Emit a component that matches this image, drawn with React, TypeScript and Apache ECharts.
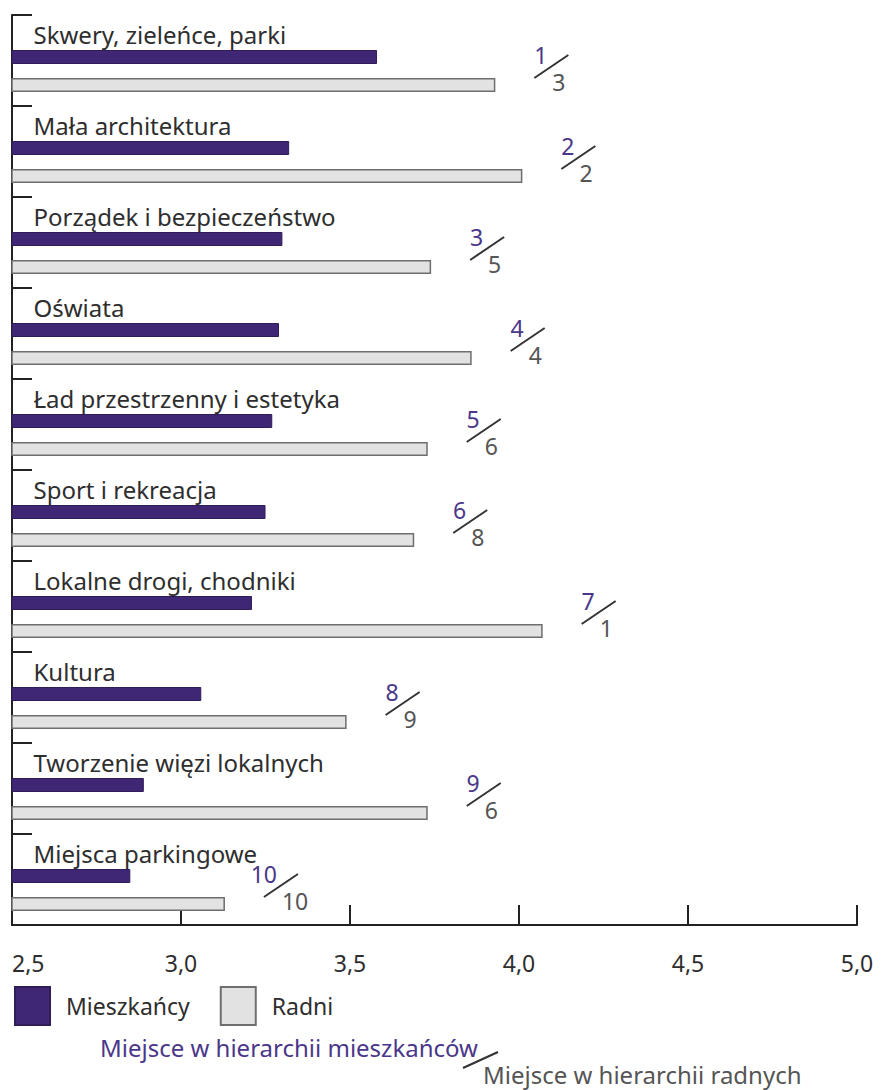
import React, { useEffect, useRef } from "react";
import * as echarts from "echarts";

const categories = [
  "Skwery, zieleńce, parki",
  "Mała architektura",
  "Porządek i bezpieczeństwo",
  "Oświata",
  "Ład przestrzenny i estetyka",
  "Sport i rekreacja",
  "Lokalne drogi, chodniki",
  "Kultura",
  "Tworzenie więzi lokalnych",
  "Miejsca parkingowe",
];
const mieszkancy = [3.58, 3.32, 3.3, 3.29, 3.27, 3.25, 3.21, 3.06, 2.89, 2.85];
const radni = [3.93, 4.01, 3.74, 3.86, 3.73, 3.69, 4.07, 3.49, 3.73, 3.13];
const rankMieszkancy = [1, 2, 3, 4, 5, 6, 7, 8, 9, 10];
const rankRadni = [3, 2, 5, 4, 6, 8, 1, 9, 6, 10];
const xTicks = { min: 2.5, max: 5.0, interval: 0.5 };

const PURPLE = "#3f2775";
const PURPLE_TEXT = "#4b3789";
const GRAY_FILL = "#e2e2e2";
const GRAY_BORDER = "#6e6e6e";
const TEXT = "#2e2e2e";
const AXIS = "#222222";
const FONT = "'Noto Sans', sans-serif";

export default function App() {
  const ref = useRef<HTMLDivElement>(null);
  useEffect(() => {
    if (!ref.current) return;
    const chart = echarts.init(ref.current, null, { renderer: "svg" });
    const rankData = categories.map((_, i) => [radni[i], i, rankMieszkancy[i], rankRadni[i]]);
    chart.setOption({
      animation: false,
      backgroundColor: "#ffffff",
      textStyle: { fontFamily: FONT },
      grid: { left: 12, right: 36, top: 15, bottom: 165, containLabel: false },
      xAxis: {
        type: "value",
        min: xTicks.min,
        max: xTicks.max,
        interval: xTicks.interval,
        axisLine: { show: true, lineStyle: { color: AXIS, width: 2 } },
        axisTick: { show: true, inside: true, length: 20, lineStyle: { color: AXIS, width: 2 } },
        splitLine: { show: false },
        axisLabel: {
          fontFamily: FONT,
          fontSize: 23,
          color: TEXT,
          margin: 26,
          alignMinLabel: "left",
          formatter: (v: number) => v.toFixed(1).replace(".", ","),
        },
      },
      yAxis: {
        type: "category",
        inverse: true,
        data: categories,
        axisLine: { show: true, lineStyle: { color: AXIS, width: 2 } },
        axisTick: { show: true, inside: true, length: 20, alignWithLabel: false, lineStyle: { color: AXIS, width: 2 } },
        axisLabel: { show: false },
        splitLine: { show: false },
      },
      legend: {
        data: ["Mieszkańcy", "Radni"],
        left: 9,
        top: 981,
        icon: "rect",
        itemWidth: 35,
        itemHeight: 38,
        itemGap: 30,
        textStyle: { fontFamily: FONT, fontSize: 23, color: TEXT, padding: [0, 0, 0, 11] },
      },
      series: [
        {
          name: "spacer",
          type: "bar",
          barWidth: 10.5,
          barGap: "100%",
          data: [],
          silent: true,
        },
        {
          name: "Mieszkańcy",
          type: "bar",
          barWidth: 14,
          barGap: "100%",
          data: mieszkancy,
          itemStyle: { color: PURPLE, borderColor: "#2e1d57", borderWidth: 1 },
          label: {
            show: true,
            position: [22, -16],
            align: "left",
            verticalAlign: "middle",
            fontFamily: FONT,
            fontSize: 24,
            color: TEXT,
            formatter: (p: any) => categories[p.dataIndex],
          },
        },
        {
          name: "Radni",
          type: "bar",
          barWidth: 14,
          barGap: "100%",
          data: radni,
          itemStyle: { color: GRAY_FILL, borderColor: GRAY_BORDER, borderWidth: 1.5 },
        },
        {
          name: "ranks",
          type: "custom",
          silent: true,
          data: rankData,
          encode: { x: 0, y: 1 },
          renderItem: (params: any, api: any) => {
            const c = api.coord([api.value(0), api.value(1)]);
            const cx = c[0] + 56;
            const cy = c[1] + 6;
            return {
              type: "group",
              children: [
                {
                  type: "line",
                  shape: { x1: cx - 17, y1: cy + 11.5, x2: cx + 17, y2: cy - 11.5 },
                  style: { stroke: "#333333", lineWidth: 2 },
                },
                {
                  type: "text",
                  x: cx - 4,
                  y: cy - 12,
                  style: {
                    text: String(api.value(2)),
                    fill: PURPLE_TEXT,
                    font: `23px ${FONT}`,
                    align: "right",
                    verticalAlign: "middle",
                  },
                },
                {
                  type: "text",
                  x: cx + 1,
                  y: cy + 15,
                  style: {
                    text: String(api.value(3)),
                    fill: "#555555",
                    font: `23px ${FONT}`,
                    align: "left",
                    verticalAlign: "middle",
                  },
                },
              ],
            };
          },
        },
      ],
      graphic: [
        {
          type: "text",
          x: 100,
          y: 1047,
          style: {
            text: "Miejsce w hierarchii mieszkańców",
            fill: PURPLE_TEXT,
            font: `24px ${FONT}`,
            align: "left",
            verticalAlign: "middle",
          },
        },
        {
          type: "line",
          shape: { x1: 463, y1: 1068, x2: 498, y2: 1052 },
          style: { stroke: "#333333", lineWidth: 2 },
        },
        {
          type: "text",
          x: 483,
          y: 1074,
          style: {
            text: "Miejsce w hierarchii radnych",
            fill: "#555555",
            font: `24px ${FONT}`,
            align: "left",
            verticalAlign: "middle",
          },
        },
      ],
    });
    return () => chart.dispose();
  }, []);
  return (
    <div
      ref={ref}
      style={{ position: "fixed", left: 0, top: 0, width: 893, height: 1090, background: "#fff" }}
    />
  );
}
